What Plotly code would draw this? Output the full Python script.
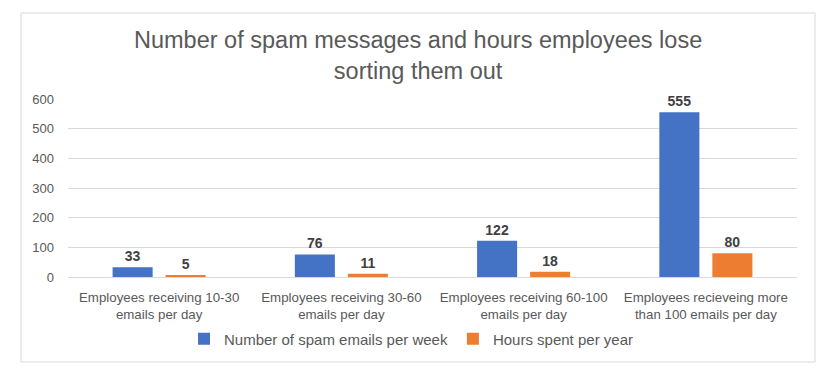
import plotly.graph_objects as go

categories = [
    "Employees receiving 10-30<br>emails per day",
    "Employees receiving 30-60<br>emails per day",
    "Employees receiving 60-100<br>emails per day",
    "Employees recieveing more<br>than 100 emails per day",
]
spam_per_week = [33, 76, 122, 555]
hours_per_year = [5, 11, 18, 80]
series_names = ["Number of spam emails per week", "Hours spent per year"]
y_ticks = [0, 100, 200, 300, 400, 500, 600]

W, H = 832, 375
L, R, T, B = 68, 35, 99, 98
pw, ph = W - L - R, H - T - B

def px_x(x):
    return (x - L) / pw

def px_y(y):
    return (H - B - y) / ph

fig = go.Figure()
for name, vals, color in [
    (series_names[0], spam_per_week, "#4472C4"),
    (series_names[1], hours_per_year, "#ED7D31"),
]:
    fig.add_trace(go.Bar(
        x=categories, y=vals, name=name,
        marker=dict(color=color, line=dict(width=0)),
        text=[str(v) for v in vals], textposition="outside",
        textfont=dict(family="Liberation Sans, Arial", size=14, color="#404040", weight="bold"),
        cliponaxis=False,
    ))

fig.update_layout(
    width=W, height=H,
    margin=dict(l=L, r=R, t=T, b=B),
    paper_bgcolor="white", plot_bgcolor="white",
    barmode="group", bargap=0.418, bargroupgap=0.245,
    font=dict(family="Liberation Sans, Arial", color="#595959"),
    showlegend=True,
    legend=dict(orientation="h", x=px_x(411), xanchor="center", y=px_y(339), yanchor="middle",
                font=dict(size=15, color="#595959"), itemwidth=30, tracegroupgap=0,
                bgcolor="rgba(0,0,0,0)"),
    xaxis=dict(showgrid=False, tickfont=dict(size=13.3, color="#595959"), ticks="",
               showline=True, linecolor="#d9d9d9", linewidth=1, ticklabelstandoff=8),
    yaxis=dict(range=[0, 600], tickvals=y_ticks, showgrid=True, gridcolor="#d9d9d9",
               gridwidth=1, zeroline=False, showline=False, ticks="",
               tickfont=dict(size=13, color="#595959"), ticklabelstandoff=13),
    annotations=[dict(
        text="Number of spam messages and hours employees lose<br>sorting them out",
        xref="paper", yref="paper", x=px_x(418), y=px_y(56), xanchor="center", yanchor="middle",
        showarrow=False, font=dict(size=23.5, color="#595959"),
    )],
    shapes=[dict(type="rect", xref="paper", yref="paper",
                 x0=px_x(21), x1=px_x(815), y0=px_y(362), y1=px_y(13),
                 line=dict(color="#d9d9d9", width=1), fillcolor="rgba(0,0,0,0)", layer="below")],
)

fig.write_html("out.html", config={"displayModeBar": False},
               post_script="document.body.style.margin='0';document.body.style.overflow='hidden';")
